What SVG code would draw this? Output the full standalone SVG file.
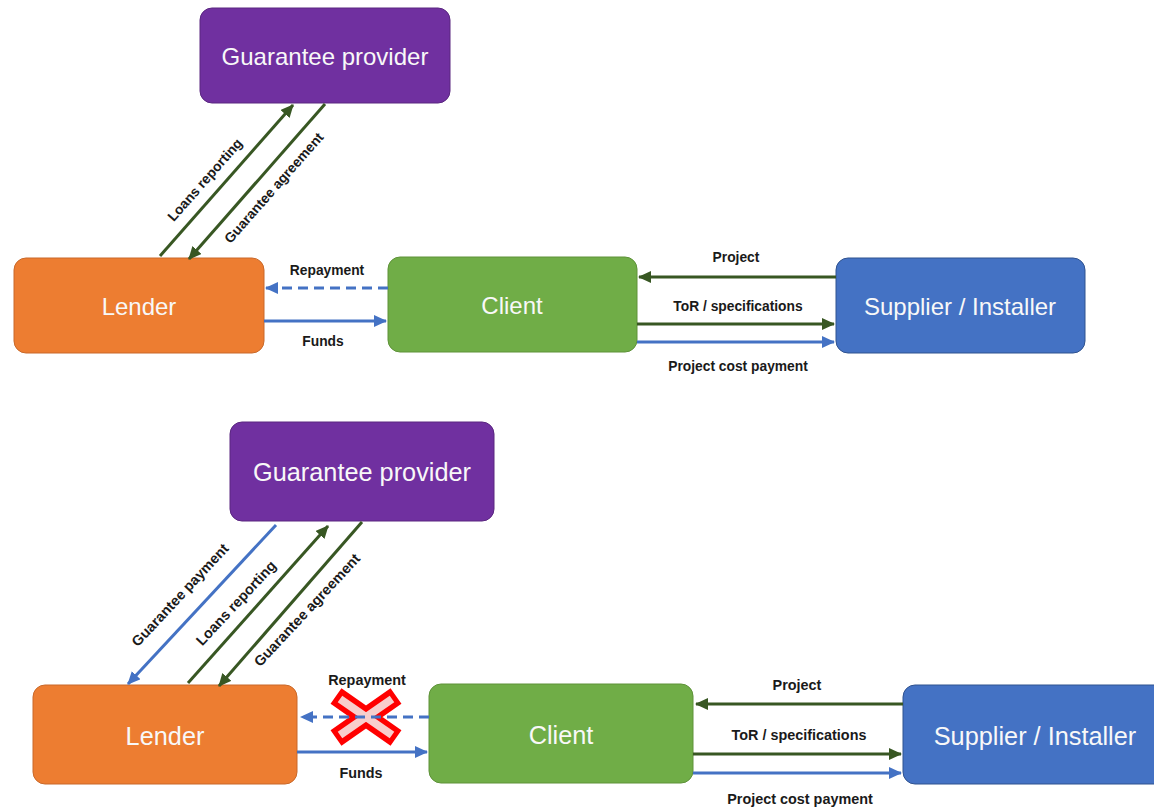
<svg xmlns="http://www.w3.org/2000/svg" width="1154" height="809" viewBox="0 0 1154 809">
<style>
.box{stroke-width:1}
.gp{fill:#7030A0;stroke:#5A2680}
.ld{fill:#ED7D31;stroke:#C9692A}
.cl{fill:#70AD47;stroke:#5E9239}
.sp{fill:#4472C4;stroke:#2F528F}
.bt{font-family:"Liberation Sans",Arial,sans-serif;fill:#F8F8F8;text-anchor:middle;dominant-baseline:central}
.lb{font-family:"Liberation Sans",Arial,sans-serif;font-weight:bold;font-size:13.8px;fill:#1a1a1a;text-anchor:middle;dominant-baseline:central}
.lb2{font-size:14.4px}
.g{stroke:#385723;stroke-width:3;fill:none}
.b{stroke:#4472C4;stroke-width:3;fill:none}
.d{stroke-dasharray:10 6}
</style>
<defs>
<marker id="ag" markerUnits="userSpaceOnUse" markerWidth="14" markerHeight="12" refX="12" refY="6" orient="auto"><path d="M0,0 L13,6 L0,12 Z" fill="#385723"/></marker>
<marker id="ab" markerUnits="userSpaceOnUse" markerWidth="14" markerHeight="12" refX="12" refY="6" orient="auto"><path d="M0,0 L13,6 L0,12 Z" fill="#4472C4"/></marker>
</defs>
<rect width="1154" height="809" fill="#FFFFFF"/>

<g id="top-guarantee-provider"><rect class="box gp" x="200" y="8" width="250" height="95" rx="12"/><text class="bt" x="325" y="56" font-size="24">Guarantee provider</text></g>
<g id="top-lender"><rect class="box ld" x="14" y="258" width="250" height="95" rx="12"/><text class="bt" x="139" y="306" font-size="24">Lender</text></g>
<g id="top-client"><rect class="box cl" x="388" y="257" width="249" height="95" rx="12"/><text class="bt" x="512" y="305" font-size="24">Client</text></g>
<g id="top-supplier"><rect class="box sp" x="836" y="258" width="249" height="95" rx="12"/><text class="bt" x="960" y="306" font-size="24">Supplier / Installer</text></g>

<g id="bottom-guarantee-provider"><rect class="box gp" x="230" y="422" width="264" height="99" rx="12"/><text class="bt" x="362" y="472" font-size="25.3">Guarantee provider</text></g>
<g id="bottom-lender"><rect class="box ld" x="33" y="685" width="264" height="99" rx="12"/><text class="bt" x="165" y="736" font-size="25.3">Lender</text></g>
<g id="bottom-client"><rect class="box cl" x="429" y="684" width="264" height="99" rx="12"/><text class="bt" x="561" y="735" font-size="25.3">Client</text></g>
<g id="bottom-supplier"><rect class="box sp" x="903" y="685" width="264" height="99" rx="12"/><text class="bt" x="1035" y="736" font-size="25.3">Supplier / Installer</text></g>

<g id="cross">
<path d="M336,696 L396,738 M396,696 L336,738" stroke="#FF0000" stroke-width="19" fill="none"/>
<path d="M340,699 L392,735 M392,699 L340,735" stroke="#F8CECC" stroke-width="8" fill="none"/>
</g>

<g id="connectors">
<line class="g" x1="160" y1="256" x2="293" y2="105" marker-end="url(#ag)"/>
<line class="g" x1="325" y1="104" x2="189" y2="259" marker-end="url(#ag)"/>
<line class="b d" x1="388" y1="288" x2="266" y2="288" marker-end="url(#ab)"/>
<line class="b" x1="264" y1="321" x2="386" y2="321" marker-end="url(#ab)"/>
<line class="g" x1="836" y1="277" x2="639" y2="277" marker-end="url(#ag)"/>
<line class="g" x1="637" y1="324" x2="834" y2="324" marker-end="url(#ag)"/>
<line class="b" x1="637" y1="342" x2="834" y2="342" marker-end="url(#ab)"/>

<line class="b" x1="276" y1="525" x2="128" y2="684" marker-end="url(#ab)"/>
<line class="g" x1="188" y1="683" x2="328" y2="526" marker-end="url(#ag)"/>
<line class="g" x1="362" y1="522" x2="219" y2="686" marker-end="url(#ag)"/>
<line class="b d" x1="429" y1="717" x2="301" y2="717" marker-end="url(#ab)"/>
<line class="b" x1="297" y1="752" x2="427" y2="752" marker-end="url(#ab)"/>
<line class="g" x1="903" y1="704" x2="696" y2="704" marker-end="url(#ag)"/>
<line class="g" x1="693" y1="754" x2="901" y2="754" marker-end="url(#ag)"/>
<line class="b" x1="693" y1="773" x2="901" y2="773" marker-end="url(#ab)"/>
</g>

<g id="labels">
<text class="lb" transform="translate(205,180) rotate(-48.6)">Loans reporting</text>
<text class="lb" transform="translate(274,188) rotate(-48.6)">Guarantee agreement</text>
<text class="lb" x="327" y="270">Repayment</text>
<text class="lb" x="323" y="341">Funds</text>
<text class="lb" x="736" y="257">Project</text>
<text class="lb" x="738" y="306">ToR / specifications</text>
<text class="lb" x="738" y="366">Project cost payment</text>

<text class="lb lb2" transform="translate(180,595) rotate(-47)">Guarantee payment</text>
<text class="lb lb2" transform="translate(236,603) rotate(-47)">Loans reporting</text>
<text class="lb lb2" transform="translate(307,610) rotate(-47)">Guarantee agreement</text>
<text class="lb lb2" x="367" y="680">Repayment</text>
<text class="lb lb2" x="361" y="773">Funds</text>
<text class="lb lb2" x="797" y="685">Project</text>
<text class="lb lb2" x="799" y="735">ToR / specifications</text>
<text class="lb lb2" x="800" y="799">Project cost payment</text>
</g>
</svg>
